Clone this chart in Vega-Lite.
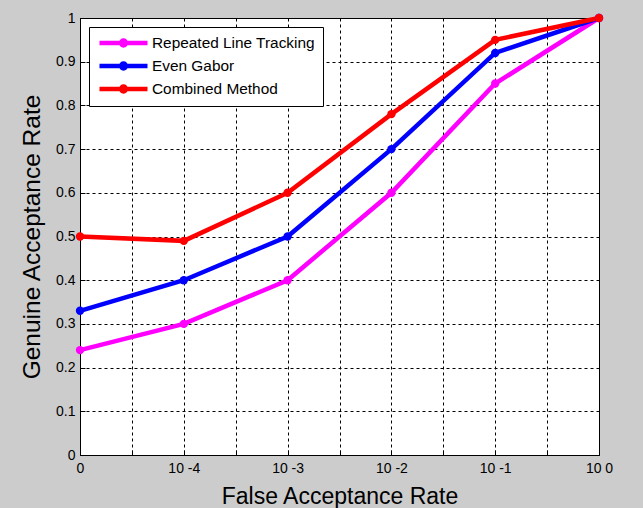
{
  "$schema": "https://vega.github.io/schema/vega-lite/v6.json",
  "width": 519,
  "height": 437,
  "autosize": {"type": "none"},
  "padding": {"left": 80, "top": 18, "right": 44, "bottom": 53},
  "background": "#cccccc",
  "config": {
    "font": "Liberation Sans",
    "view": {"fill": "white", "stroke": "black", "strokeWidth": 1}
  },
  "data": {
    "values": [
      {"x": 0, "gar": 0.24, "method": "Repeated Line Tracking"},
      {"x": 1, "gar": 0.30, "method": "Repeated Line Tracking"},
      {"x": 2, "gar": 0.40, "method": "Repeated Line Tracking"},
      {"x": 3, "gar": 0.60, "method": "Repeated Line Tracking"},
      {"x": 4, "gar": 0.85, "method": "Repeated Line Tracking"},
      {"x": 5, "gar": 1.00, "method": "Repeated Line Tracking"},
      {"x": 0, "gar": 0.33, "method": "Even Gabor"},
      {"x": 1, "gar": 0.40, "method": "Even Gabor"},
      {"x": 2, "gar": 0.50, "method": "Even Gabor"},
      {"x": 3, "gar": 0.70, "method": "Even Gabor"},
      {"x": 4, "gar": 0.92, "method": "Even Gabor"},
      {"x": 5, "gar": 1.00, "method": "Even Gabor"},
      {"x": 0, "gar": 0.50, "method": "Combined Method"},
      {"x": 1, "gar": 0.49, "method": "Combined Method"},
      {"x": 2, "gar": 0.60, "method": "Combined Method"},
      {"x": 3, "gar": 0.78, "method": "Combined Method"},
      {"x": 4, "gar": 0.95, "method": "Combined Method"},
      {"x": 5, "gar": 1.00, "method": "Combined Method"}
    ]
  },
  "encoding": {
    "x": {
      "field": "x",
      "type": "quantitative",
      "scale": {"domain": [0, 5], "nice": false, "zero": false},
      "axis": {
        "title": "False Acceptance Rate",
        "values": [0, 0.5, 1, 1.5, 2, 2.5, 3, 3.5, 4, 4.5, 5],
        "labelExpr": "datum.value % 1 == 0 ? ['0','10 -4','10 -3','10 -2','10 -1','10 0'][datum.value] : ''",
        "grid": true,
        "gridColor": "black",
        "gridDash": [3, 3],
        "gridOpacity": 1,
        "gridWidth": 1,
        "domain": false,
        "ticks": true,
        "tickSize": -5,
        "tickColor": "black",
        "labelPadding": 11,
        "labelFontSize": 14,
        "labelColor": "black",
        "labelFlush": false,
        "labelOverlap": false,
        "titleFontSize": 23,
        "titleFontWeight": "normal",
        "titleColor": "black",
        "titleY": 48,
        "titleBaseline": "alphabetic"
      }
    },
    "y": {
      "field": "gar",
      "type": "quantitative",
      "scale": {"domain": [0, 1], "nice": false},
      "axis": {
        "title": "Genuine Acceptance Rate",
        "values": [0, 0.1, 0.2, 0.3, 0.4, 0.5, 0.6, 0.7, 0.8, 0.9, 1],
        "labelExpr": "datum.value == 0 ? '0' : datum.value == 1 ? '1' : format(datum.value, '.1f')",
        "grid": true,
        "gridColor": "black",
        "gridDash": [3, 3],
        "gridOpacity": 1,
        "gridWidth": 1,
        "domain": false,
        "ticks": true,
        "tickSize": -5,
        "tickColor": "black",
        "labelPadding": 10,
        "labelFontSize": 14,
        "labelColor": "black",
        "labelFlush": false,
        "labelOverlap": false,
        "titleFontSize": 24.5,
        "titleFontWeight": "normal",
        "titleColor": "black",
        "titleX": -48,
        "titleBaseline": "middle"
      }
    },
    "color": {
      "field": "method",
      "type": "nominal",
      "scale": {
        "domain": ["Repeated Line Tracking", "Even Gabor", "Combined Method"],
        "range": ["#ff00ff", "#0000ff", "#ff0000"]
      },
      "legend": {
        "title": null,
        "orient": "none",
        "legendX": 9,
        "legendY": 9,
        "fillColor": "white",
        "strokeColor": "black",
        "padding": 8,
        "symbolType": "M-1,0H1M-0.1,0A0.1,0.1 0 1,1 0.1,0A0.1,0.1 0 1,1 -0.1,0Z",
        "symbolSize": 2304,
        "symbolStrokeWidth": 4.5,
        "clipHeight": 16,
        "rowPadding": 6,
        "labelOffset": 2,
        "labelFontSize": 15.4,
        "labelColor": "black",
        "labelLimit": 300,
        "encode": {
          "symbols": {
            "update": {
              "fill": {"scale": "color", "field": "value"},
              "stroke": {"scale": "color", "field": "value"},
              "opacity": {"value": 1}
            }
          }
        }
      }
    }
  },
  "layer": [
    {"mark": {"type": "line", "strokeWidth": 4.5}},
    {"mark": {"type": "circle", "size": 70, "opacity": 1}}
  ]
}
